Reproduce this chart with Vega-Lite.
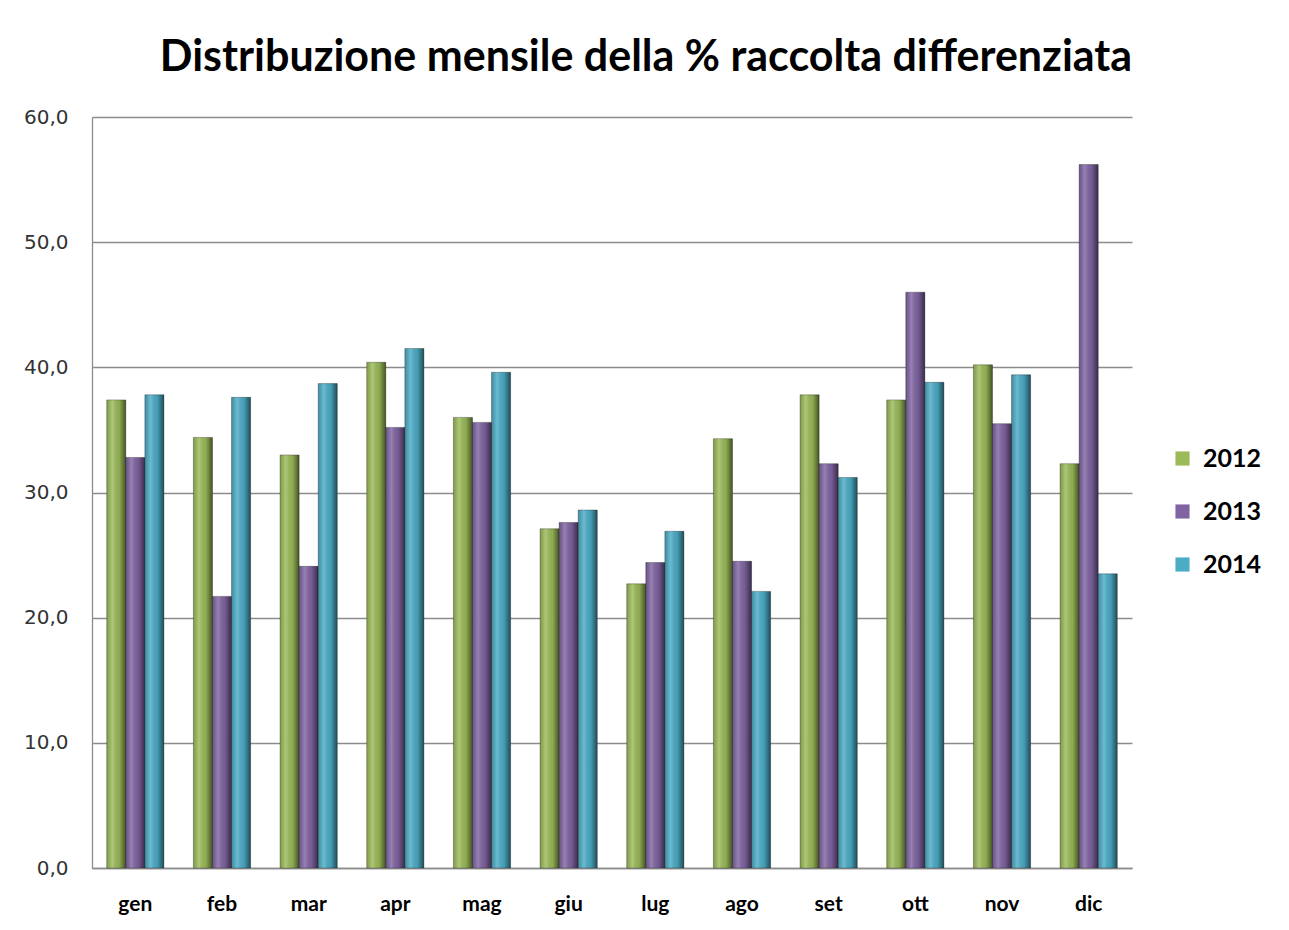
{
  "$schema": "https://vega.github.io/schema/vega-lite/v6.json",
  "width": 1040,
  "height": 751,
  "autosize": {"type": "none"},
  "padding": {"left": 92, "top": 117, "right": 157, "bottom": 62},
  "background": "white",
  "title": {
    "text": "Distribuzione mensile della % raccolta differenziata",
    "font": "Lato",
    "fontSize": 43,
    "fontWeight": "bold",
    "color": "#000000",
    "anchor": "middle",
    "dx": 34,
    "offset": 27
  },
  "data": {
    "values": [
      {"mese": "gen", "anno": "2012", "valore": 37.4},
      {"mese": "gen", "anno": "2013", "valore": 32.8},
      {"mese": "gen", "anno": "2014", "valore": 37.8},
      {"mese": "feb", "anno": "2012", "valore": 34.4},
      {"mese": "feb", "anno": "2013", "valore": 21.7},
      {"mese": "feb", "anno": "2014", "valore": 37.6},
      {"mese": "mar", "anno": "2012", "valore": 33.0},
      {"mese": "mar", "anno": "2013", "valore": 24.1},
      {"mese": "mar", "anno": "2014", "valore": 38.7},
      {"mese": "apr", "anno": "2012", "valore": 40.4},
      {"mese": "apr", "anno": "2013", "valore": 35.2},
      {"mese": "apr", "anno": "2014", "valore": 41.5},
      {"mese": "mag", "anno": "2012", "valore": 36.0},
      {"mese": "mag", "anno": "2013", "valore": 35.6},
      {"mese": "mag", "anno": "2014", "valore": 39.6},
      {"mese": "giu", "anno": "2012", "valore": 27.1},
      {"mese": "giu", "anno": "2013", "valore": 27.6},
      {"mese": "giu", "anno": "2014", "valore": 28.6},
      {"mese": "lug", "anno": "2012", "valore": 22.7},
      {"mese": "lug", "anno": "2013", "valore": 24.4},
      {"mese": "lug", "anno": "2014", "valore": 26.9},
      {"mese": "ago", "anno": "2012", "valore": 34.3},
      {"mese": "ago", "anno": "2013", "valore": 24.5},
      {"mese": "ago", "anno": "2014", "valore": 22.1},
      {"mese": "set", "anno": "2012", "valore": 37.8},
      {"mese": "set", "anno": "2013", "valore": 32.3},
      {"mese": "set", "anno": "2014", "valore": 31.2},
      {"mese": "ott", "anno": "2012", "valore": 37.4},
      {"mese": "ott", "anno": "2013", "valore": 46.0},
      {"mese": "ott", "anno": "2014", "valore": 38.8},
      {"mese": "nov", "anno": "2012", "valore": 40.2},
      {"mese": "nov", "anno": "2013", "valore": 35.5},
      {"mese": "nov", "anno": "2014", "valore": 39.4},
      {"mese": "dic", "anno": "2012", "valore": 32.3},
      {"mese": "dic", "anno": "2013", "valore": 56.2},
      {"mese": "dic", "anno": "2014", "valore": 23.5}
    ]
  },
  "encoding": {
    "x": {
      "field": "mese",
      "type": "nominal",
      "sort": ["gen", "feb", "mar", "apr", "mag", "giu", "lug", "ago", "set", "ott", "nov", "dic"],
      "scale": {"paddingInner": 0.34, "paddingOuter": 0.17},
      "axis": {
        "title": null,
        "labelAngle": 0,
        "labelFont": "Lato",
        "labelFontSize": 21,
        "labelFontWeight": "bold",
        "labelColor": "#000000",
        "labelPadding": 25,
        "ticks": false,
        "domainColor": "#8c8c8c",
        "domainWidth": 1.5
      }
    },
    "xOffset": {"field": "anno", "type": "nominal", "scale": {"paddingInner": 0, "paddingOuter": 0}},
    "y": {
      "field": "valore",
      "type": "quantitative",
      "scale": {"domain": [0, 60], "nice": false},
      "axis": {
        "title": null,
        "values": [0, 10, 20, 30, 40, 50, 60],
        "labelExpr": "replace(format(datum.value, '.1f'), '.', ',')",
        "labelFont": "DejaVu Sans",
        "labelFontSize": 20,
        "labelColor": "#333333",
        "labelPadding": 24,
        "ticks": false,
        "grid": true,
        "gridColor": "#8c8c8c",
        "gridWidth": 1.3,
        "domainColor": "#8c8c8c",
        "domainWidth": 1.3
      }
    }
  },
  "layer": [
    {
      "mark": {"type": "bar", "stroke": "#2b2b2b", "strokeWidth": 0.6, "strokeOpacity": 0.6},
      "encoding": {
        "color": {
          "field": "anno",
          "type": "nominal",
          "scale": {"domain": ["2012", "2013", "2014"], "range": ["#9BBB59", "#8064A2", "#4BACC6"]},
          "legend": {
            "title": null,
            "orient": "none",
            "legendX": 1078,
            "legendY": 329,
            "symbolType": "square",
            "symbolSize": 200,
            "symbolStrokeWidth": 0,
            "labelFont": "Lato",
            "labelFontSize": 25,
            "labelFontWeight": "bold",
            "labelColor": "#000000",
            "rowPadding": 27,
            "labelOffset": 8
          }
        }
      }
    },
    {
      "mark": {
        "type": "bar",
        "fill": {
          "gradient": "linear",
          "x1": 0, "x2": 1, "y1": 0, "y2": 0,
          "stops": [
            {"offset": 0, "color": "rgba(0,0,0,0.18)"},
            {"offset": 0.3, "color": "rgba(255,255,255,0.18)"},
            {"offset": 0.65, "color": "rgba(0,0,0,0.08)"},
            {"offset": 1, "color": "rgba(0,0,0,0.55)"}
          ]
        }
      },
      "encoding": {}
    }
  ],
  "config": {
    "view": {"stroke": null}
  }
}
